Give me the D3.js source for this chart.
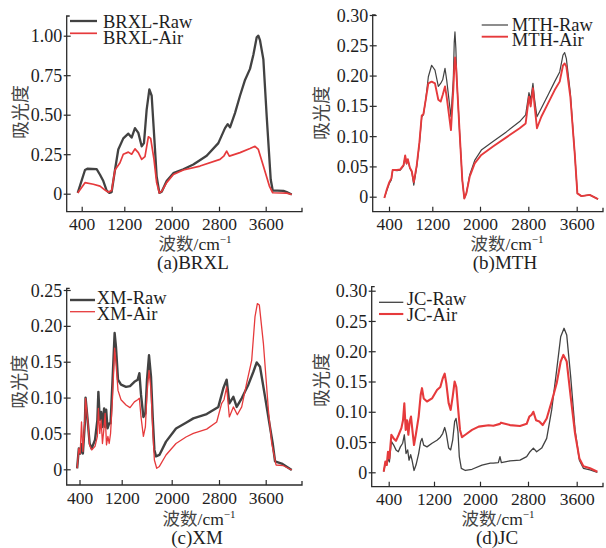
<!DOCTYPE html>
<html>
<head>
<meta charset="utf-8">
<script src="https://cdn.jsdelivr.net/npm/d3@7"></script>
<style>
  body { margin: 0; background: #fff; }
  text { font-family: "Liberation Serif", "Times New Roman", "Noto Sans CJK SC", serif; fill: #1e1e1e; }
  .cjk { font-family: "Noto Sans CJK SC", sans-serif; fill: #444; }
</style>
</head>
<body>
<svg id="chart" width="606" height="548"></svg>
<script>
// Wavenumber tick labels shared by all four spectra (cm^-1)
const wavenumberTicks = [400, 1200, 2000, 2800, 3600];

// Absorbance tick values
const brxlTicks = [0, 0.25, 0.5, 0.75, 1.0];
const mthTicks = [0, 0.05, 0.10, 0.15, 0.20, 0.25, 0.30];
const xmTicks = [0, 0.05, 0.10, 0.15, 0.20, 0.25];
const jcTicks = [0, 0.05, 0.10, 0.15, 0.20, 0.25, 0.30];

// Spectra: [wavenumber, absorbance]
const brxlRaw = [[325,0.005],[462,0.15],[506,0.158],[681,0.155],[744,0.12],[806,0.08],[869,0.02],[919,0.005],[962,0.01],[1025,0.15],[1087,0.28],[1181,0.35],[1268,0.38],[1324,0.355],[1380,0.415],[1437,0.385],[1493,0.30],[1532,0.32],[1577,0.53],[1623,0.66],[1662,0.62],[1701,0.385],[1746,0.11],[1792,0.005],[1831,0.012],[1915,0.08],[2028,0.13],[2197,0.155],[2366,0.185],[2592,0.24],[2789,0.32],[2903,0.415],[2949,0.44],[2989,0.42],[3074,0.51],[3160,0.62],[3246,0.72],[3331,0.79],[3389,0.88],[3446,0.99],[3474,1.0],[3503,0.97],[3560,0.85],[3617,0.49],[3686,0.09],[3720,0.02],[3800,0.02],[3903,0.018],[3960,0.01],[4046,-0.005]];
const brxlAir = [[325,0.005],[462,0.07],[619,0.06],[744,0.048],[838,0.023],[900,0.01],[962,0.02],[1025,0.15],[1119,0.196],[1181,0.25],[1268,0.263],[1324,0.25],[1380,0.284],[1437,0.26],[1493,0.217],[1549,0.235],[1606,0.36],[1645,0.35],[1701,0.217],[1746,0.07],[1792,0.005],[1831,0.015],[1915,0.07],[2028,0.122],[2197,0.15],[2479,0.175],[2817,0.217],[2886,0.24],[2931,0.27],[2977,0.238],[3160,0.26],[3331,0.286],[3417,0.30],[3474,0.28],[3560,0.175],[3663,0.048],[3720,0.006],[3960,0.004],[4046,-0.005]];

const mthRaw = [[314,-0.002],[363,0.011],[406,0.022],[443,0.0275],[467,0.044],[547,0.043],[608,0.044],[669,0.051],[699,0.067],[724,0.054],[748,0.061],[785,0.047],[821,0.041],[858,0.019],[913,0.05],[962,0.088],[1005,0.132],[1035,0.135],[1078,0.16],[1127,0.198],[1188,0.217],[1245,0.209],[1301,0.182],[1340,0.187],[1374,0.193],[1413,0.212],[1441,0.193],[1513,0.132],[1552,0.193],[1568,0.255],[1580,0.272],[1595,0.245],[1614,0.187],[1659,0.105],[1703,0.0275],[1737,-0.003],[1771,0.0055],[1827,0.036],[1911,0.06],[2022,0.077],[2215,0.091],[2436,0.107],[2657,0.124],[2756,0.135],[2811,0.172],[2839,0.16],[2877,0.187],[2905,0.16],[2943,0.132],[3015,0.146],[3126,0.168],[3236,0.19],[3319,0.206],[3374,0.234],[3401,0.238],[3429,0.228],[3495,0.171],[3567,0.072],[3611,0.0055],[3677,0.001],[3815,0.003],[3953,-0.004]];
const mthAir = [[314,-0.002],[363,0.013],[406,0.024],[443,0.03],[467,0.044],[547,0.044],[608,0.045],[669,0.052],[699,0.068],[724,0.055],[748,0.062],[785,0.048],[821,0.042],[858,0.024],[913,0.052],[962,0.09],[1005,0.134],[1035,0.136],[1078,0.16],[1127,0.187],[1188,0.19],[1245,0.187],[1301,0.16],[1340,0.157],[1374,0.168],[1413,0.182],[1441,0.165],[1513,0.11],[1552,0.176],[1570,0.215],[1582,0.23],[1598,0.215],[1614,0.187],[1659,0.105],[1703,0.0275],[1737,-0.003],[1771,0.0055],[1827,0.033],[1911,0.055],[2022,0.069],[2215,0.083],[2436,0.098],[2657,0.113],[2756,0.121],[2811,0.165],[2839,0.149],[2877,0.179],[2905,0.149],[2943,0.113],[3015,0.132],[3126,0.154],[3236,0.176],[3319,0.19],[3374,0.217],[3401,0.22],[3429,0.215],[3495,0.165],[3567,0.072],[3611,0.0055],[3677,0.001],[3815,0.003],[3953,-0.004]];

const xmRaw = [[355,0.0014],[387,0.029],[413,0.022],[438,0.035],[464,0.022],[502,0.065],[515,0.1],[554,0.069],[592,0.036],[630,0.029],[694,0.041],[739,0.069],[758,0.108],[784,0.069],[810,0.08],[835,0.059],[867,0.085],[886,0.059],[906,0.083],[931,0.057],[963,0.064],[989,0.064],[1027,0.125],[1066,0.19],[1091,0.171],[1130,0.125],[1187,0.118],[1269,0.115],[1333,0.116],[1403,0.122],[1456,0.125],[1483,0.134],[1509,0.104],[1547,0.073],[1579,0.078],[1605,0.125],[1637,0.159],[1669,0.129],[1696,0.073],[1723,0.027],[1749,0.018],[1803,0.02],[1909,0.0386],[2073,0.057],[2242,0.065],[2366,0.071],[2592,0.077],[2789,0.087],[2874,0.113],[2931,0.125],[2977,0.092],[3046,0.101],[3103,0.087],[3189,0.099],[3303,0.118],[3389,0.136],[3446,0.149],[3503,0.143],[3589,0.101],[3663,0.064],[3720,0.036],[3760,0.011],[3874,0.008],[4046,-0.001]];
const xmAir = [[355,0.0014],[387,0.029],[413,0.022],[438,0.066],[464,0.025],[502,0.069],[515,0.099],[554,0.069],[592,0.034],[630,0.027],[694,0.032],[739,0.046],[758,0.085],[784,0.05],[810,0.069],[835,0.036],[861,0.055],[886,0.078],[912,0.034],[938,0.046],[963,0.036],[989,0.05],[1027,0.101],[1066,0.169],[1091,0.148],[1130,0.11],[1187,0.097],[1269,0.0897],[1333,0.086],[1403,0.094],[1456,0.097],[1483,0.099],[1509,0.073],[1547,0.046],[1579,0.059],[1605,0.106],[1637,0.138],[1669,0.11],[1696,0.055],[1723,0.013],[1760,0.0014],[1803,0.004],[1909,0.02],[2073,0.036],[2242,0.045],[2366,0.05],[2592,0.056],[2761,0.066],[2846,0.092],[2886,0.097],[2931,0.115],[2977,0.073],[3046,0.087],[3114,0.076],[3189,0.087],[3274,0.12],[3360,0.152],[3417,0.213],[3457,0.231],[3491,0.229],[3560,0.176],[3646,0.083],[3703,0.036],[3777,0.006],[3903,0.005],[4046,-0.001]];

const jcRaw = [[312,0.001],[341,0.015],[365,0.012],[388,0.023],[412,0.017],[447,0.051],[488,0.045],[529,0.037],[570,0.034],[606,0.042],[647,0.048],[676,0.062],[706,0.031],[735,0.037],[759,0.02],[788,0.029],[812,0.02],[847,0.003],[882,0.012],[929,0.031],[965,0.051],[988,0.056],[1018,0.045],[1076,0.042],[1165,0.048],[1252,0.053],[1310,0.058],[1351,0.064],[1386,0.074],[1414,0.064],[1455,0.04],[1490,0.037],[1525,0.053],[1559,0.084],[1583,0.089],[1617,0.067],[1640,0.026],[1675,0.0066],[1745,0.003],[1861,0.005],[2033,0.012],[2172,0.015],[2222,0.015],[2306,0.016],[2333,0.026],[2356,0.016],[2500,0.019],[2667,0.02],[2778,0.026],[2833,0.034],[2888,0.04],[2942,0.034],[3025,0.04],[3107,0.056],[3189,0.103],[3271,0.169],[3337,0.224],[3392,0.238],[3436,0.227],[3501,0.158],[3573,0.07],[3644,0.02],[3710,0.0066],[3819,0.004],[3940,0]];
const jcAir = [[312,0.001],[341,0.0176],[365,0.012],[388,0.034],[412,0.023],[447,0.062],[488,0.056],[529,0.052],[576,0.062],[624,0.073],[653,0.086],[676,0.114],[700,0.07],[724,0.086],[747,0.062],[771,0.084],[794,0.092],[818,0.07],[847,0.045],[882,0.064],[929,0.092],[965,0.128],[988,0.139],[1018,0.122],[1076,0.117],[1165,0.122],[1252,0.136],[1310,0.141],[1351,0.155],[1386,0.163],[1414,0.147],[1455,0.114],[1490,0.103],[1525,0.125],[1559,0.15],[1588,0.141],[1617,0.108],[1652,0.07],[1687,0.058],[1745,0.062],[1861,0.07],[1977,0.0754],[2144,0.0776],[2222,0.077],[2333,0.08],[2350,0.082],[2500,0.078],[2667,0.0765],[2778,0.08],[2822,0.092],[2860,0.095],[2888,0.1],[2932,0.086],[2986,0.084],[3041,0.078],[3107,0.089],[3189,0.117],[3271,0.147],[3337,0.183],[3381,0.194],[3436,0.183],[3501,0.125],[3573,0.064],[3644,0.023],[3710,0.01],[3819,0.0066],[3940,0.001]];

const rawColor = "#424242";
const airColor = "#e63a3c";

// Panel layout: frame, tick pixel anchors, legend placement and stroke widths
const panels = [
  { name: "BRXL", tag: "(a)", raw: brxlRaw, air: brxlAir, yTicks: brxlTicks,
    left: 66.7, right: 302, top: 16, bottom: 211.7, y0: 193.7, yMax: 35.7,
    xPx: [81.7, 124.3, 171.7, 219, 265.7],
    legend: { x1: 70, x2: 97, y: [21, 33.3], tx: 103, ty: [27.5, 43.5] }, rawW: 2.3, airW: 1.7,
    yTitle: [21, 112], xTitle: [195, 250], label: [193, 269] },
  { name: "MTH", tag: "(b)", raw: mthRaw, air: mthAir, yTicks: mthTicks,
    left: 372.7, right: 603, top: 15, bottom: 211.7, y0: 196.7, yMax: 15,
    xPx: [389, 432.3, 480, 528.3, 576.7],
    legend: { x1: 481.7, x2: 508, y: [25, 36.7], tx: 511.7, ty: [31, 45.5] }, rawW: 1.2, airW: 1.9,
    yTitle: [321.7, 113], xTitle: [507, 249.5], label: [505, 269] },
  { name: "XM", tag: "(c)", raw: xmRaw, air: xmAir, yTicks: xmTicks,
    left: 66.7, right: 302, top: 288.3, bottom: 485, y0: 469.3, yMax: 290,
    xPx: [79.5, 121.7, 171.7, 219, 265.7],
    legend: { x1: 70, x2: 95, y: [300, 311.7], tx: 96.7, ty: [303.5, 320] }, rawW: 2.4, airW: 1.3,
    yTitle: [20, 381.7], xTitle: [199, 525], label: [197, 543.5] },
  { name: "JC", tag: "(d)", raw: jcRaw, air: jcAir, yTicks: jcTicks,
    left: 371.7, right: 603, top: 286.7, bottom: 486.7, y0: 472.3, yMax: 290.7,
    xPx: [388.7, 434, 480, 528, 576.7],
    legend: { x1: 379, x2: 403.3, y: [302.3, 314], tx: 406.7, ty: [305, 321] }, rawW: 1.3, airW: 2.1,
    yTitle: [321.7, 380], xTitle: [498, 525], label: [497, 543.5] }
];

const svg = d3.select("#chart");
const axisColor = "#2b2b2b";

panels.forEach(p => {
  const g = svg.append("g");
  // Piecewise x scale through the labelled wavenumber ticks
  const x = d3.scaleLinear().domain(wavenumberTicks).range(p.xPx);
  const yTop = p.yTicks[p.yTicks.length - 1];
  const y = d3.scaleLinear().domain([0, yTop]).range([p.y0, p.yMax]);

  const line = d3.line().x(d => x(d[0])).y(d => y(d[1]));

  // Spectra
  g.append("path").datum(p.raw).attr("d", line)
    .attr("fill", "none").attr("stroke", rawColor).attr("stroke-width", p.rawW)
    .attr("stroke-linejoin", "round");
  g.append("path").datum(p.air).attr("d", line)
    .attr("fill", "none").attr("stroke", airColor).attr("stroke-width", p.airW)
    .attr("stroke-linejoin", "round");

  // Frame (left and bottom axis lines)
  g.append("path")
    .attr("d", `M${p.left + 3},${p.top}H${p.left}V${p.bottom}H${p.right}v-4`)
    .attr("fill", "none").attr("stroke", axisColor).attr("stroke-width", 1.3);

  // Bottom axis: inward ticks
  const xAxis = g.append("g").attr("transform", `translate(0,${p.bottom})`)
    .call(d3.axisBottom(x).tickValues(wavenumberTicks).tickSize(-5).tickFormat(d3.format("d")));
  xAxis.select(".domain").remove();
  xAxis.selectAll("line").attr("stroke", axisColor).attr("stroke-width", 1.2);
  xAxis.selectAll("text").attr("y", 18.5).attr("dy", 0)
    .style("font-size", "17.5px").attr("fill", "#1e1e1e");

  // Left axis: ticks crossing the axis line
  const yAxis = g.append("g").attr("transform", `translate(${p.left},0)`)
    .call(d3.axisLeft(y).tickValues(p.yTicks)
      .tickFormat(d => d === 0 ? "0" : d3.format(".2f")(d)));
  yAxis.select(".domain").remove();
  yAxis.selectAll("line").attr("x1", 4).attr("x2", -3)
    .attr("stroke", axisColor).attr("stroke-width", 1.2);
  yAxis.selectAll("text").attr("x", -4.5).attr("dy", "0.34em")
    .style("font-size", "18px").attr("fill", "#1e1e1e");

  // Legend
  const lg = p.legend;
  [[`${p.name}-Raw`, rawColor, p.rawW, 0], [`${p.name}-Air`, airColor, p.airW, 1]]
    .forEach(([label, color, w, i]) => {
      g.append("line").attr("x1", lg.x1).attr("x2", lg.x2)
        .attr("y1", lg.y[i]).attr("y2", lg.y[i])
        .attr("stroke", color).attr("stroke-width", w);
      g.append("text").attr("x", lg.tx).attr("y", lg.ty[i])
        .style("font-size", "18.5px").text(label);
    });

  // Axis titles and panel caption
  g.append("text").attr("class", "cjk")
    .attr("transform", `translate(${p.yTitle[0]},${p.yTitle[1]}) rotate(-90)`)
    .attr("text-anchor", "middle").attr("dy", "0.35em")
    .style("font-size", "18px").text("吸光度");

  const xt = g.append("text").attr("x", p.xTitle[0]).attr("y", p.xTitle[1])
    .attr("text-anchor", "middle").style("font-size", "17.5px");
  xt.append("tspan").attr("class", "cjk").text("波数");
  xt.append("tspan").text("/cm");
  xt.append("tspan").attr("dy", -7).style("font-size", "11px").text("−1");

  g.append("text").attr("x", p.label[0]).attr("y", p.label[1])
    .attr("text-anchor", "middle").style("font-size", "19px")
    .text(`${p.tag}${p.name}`);
});
</script>
</body>
</html>
